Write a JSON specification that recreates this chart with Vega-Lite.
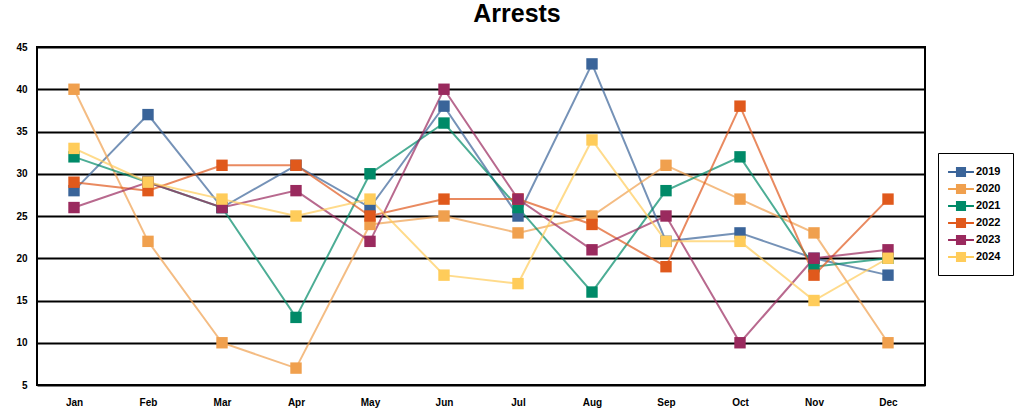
{
  "$schema": "https://vega.github.io/schema/vega-lite/v6.json",
  "width": 888,
  "height": 338,
  "autosize": {"type": "none"},
  "padding": {"left": 37, "top": 47, "right": 104, "bottom": 29},
  "background": "white",
  "title": {"text": "Arrests", "fontSize": 25, "font": "Liberation Sans", "fontWeight": "bold", "color": "black", "anchor": "middle", "offset": 15, "dx": 36},
  "config": {
    "view": {"stroke": "black", "strokeWidth": 2},
    "font": "Liberation Sans"
  },
  "data": {"values": [
    {"month":"Jan","year":"2019","value":28},{"month":"Feb","year":"2019","value":37},{"month":"Mar","year":"2019","value":26},{"month":"Apr","year":"2019","value":31},{"month":"May","year":"2019","value":26},{"month":"Jun","year":"2019","value":38},{"month":"Jul","year":"2019","value":25},{"month":"Aug","year":"2019","value":43},{"month":"Sep","year":"2019","value":22},{"month":"Oct","year":"2019","value":23},{"month":"Nov","year":"2019","value":20},{"month":"Dec","year":"2019","value":18},
    {"month":"Jan","year":"2020","value":40},{"month":"Feb","year":"2020","value":22},{"month":"Mar","year":"2020","value":10},{"month":"Apr","year":"2020","value":7},{"month":"May","year":"2020","value":24},{"month":"Jun","year":"2020","value":25},{"month":"Jul","year":"2020","value":23},{"month":"Aug","year":"2020","value":25},{"month":"Sep","year":"2020","value":31},{"month":"Oct","year":"2020","value":27},{"month":"Nov","year":"2020","value":23},{"month":"Dec","year":"2020","value":10},
    {"month":"Jan","year":"2021","value":32},{"month":"Feb","year":"2021","value":29},{"month":"Mar","year":"2021","value":26},{"month":"Apr","year":"2021","value":13},{"month":"May","year":"2021","value":30},{"month":"Jun","year":"2021","value":36},{"month":"Jul","year":"2021","value":26},{"month":"Aug","year":"2021","value":16},{"month":"Sep","year":"2021","value":28},{"month":"Oct","year":"2021","value":32},{"month":"Nov","year":"2021","value":19},{"month":"Dec","year":"2021","value":20},
    {"month":"Jan","year":"2022","value":29},{"month":"Feb","year":"2022","value":28},{"month":"Mar","year":"2022","value":31},{"month":"Apr","year":"2022","value":31},{"month":"May","year":"2022","value":25},{"month":"Jun","year":"2022","value":27},{"month":"Jul","year":"2022","value":27},{"month":"Aug","year":"2022","value":24},{"month":"Sep","year":"2022","value":19},{"month":"Oct","year":"2022","value":38},{"month":"Nov","year":"2022","value":18},{"month":"Dec","year":"2022","value":27},
    {"month":"Jan","year":"2023","value":26},{"month":"Feb","year":"2023","value":29},{"month":"Mar","year":"2023","value":26},{"month":"Apr","year":"2023","value":28},{"month":"May","year":"2023","value":22},{"month":"Jun","year":"2023","value":40},{"month":"Jul","year":"2023","value":27},{"month":"Aug","year":"2023","value":21},{"month":"Sep","year":"2023","value":25},{"month":"Oct","year":"2023","value":10},{"month":"Nov","year":"2023","value":20},{"month":"Dec","year":"2023","value":21},
    {"month":"Jan","year":"2024","value":33},{"month":"Feb","year":"2024","value":29},{"month":"Mar","year":"2024","value":27},{"month":"Apr","year":"2024","value":25},{"month":"May","year":"2024","value":27},{"month":"Jun","year":"2024","value":18},{"month":"Jul","year":"2024","value":17},{"month":"Aug","year":"2024","value":34},{"month":"Sep","year":"2024","value":22},{"month":"Oct","year":"2024","value":22},{"month":"Nov","year":"2024","value":15},{"month":"Dec","year":"2024","value":20}
  ]},
  "encoding": {
    "x": {"field": "month", "type": "ordinal", "sort": ["Jan","Feb","Mar","Apr","May","Jun","Jul","Aug","Sep","Oct","Nov","Dec"],
      "scale": {"type": "point", "padding": 0.5},
      "axis": {"title": null, "labelAngle": 0, "ticks": false, "domain": false, "grid": false, "labelPadding": 12, "labelFontSize": 10, "labelColor": "black", "labelFontWeight": "bold"}},
    "y": {"field": "value", "type": "quantitative", "scale": {"domain": [5, 45], "nice": false, "zero": false},
      "axis": {"title": null, "values": [5,10,15,20,25,30,35,40,45], "ticks": false, "domain": false, "grid": true, "gridColor": "black", "gridWidth": 2, "gridOpacity": 1, "labelPadding": 10, "labelFontSize": 10, "labelColor": "black", "labelFontWeight": "bold"}},
    "color": {"field": "year", "type": "nominal",
      "scale": {"domain": ["2019","2020","2021","2022","2023","2024"], "range": ["#3A6499","#F0A04E","#008A68","#E0591C","#9A2A5E","#FFCC5A"]},
      "legend": {"title": null, "orient": "none", "legendX": 901, "legendY": 106,
        "symbolType": "M-1.85,-0.14H1.85V0.14H-1.85Z M-0.72,-0.72H0.72V0.72H-0.72Z",
        "symbolSize": 196, "symbolStrokeWidth": 0, "symbolOpacity": 1, "symbolOffset": 4, "labelOffset": 8,
        "labelFontSize": 11, "labelFontWeight": "bold", "labelColor": "black",
        "rowPadding": 4, "padding": 12, "strokeColor": "black", "fillColor": "white", "offset": 0}}
  },
  "layer": [
    {"mark": {"type": "line", "strokeWidth": 2, "opacity": 0.7}},
    {"mark": {"type": "point", "shape": "square", "filled": true, "size": 130, "opacity": 1}}
  ]
}
